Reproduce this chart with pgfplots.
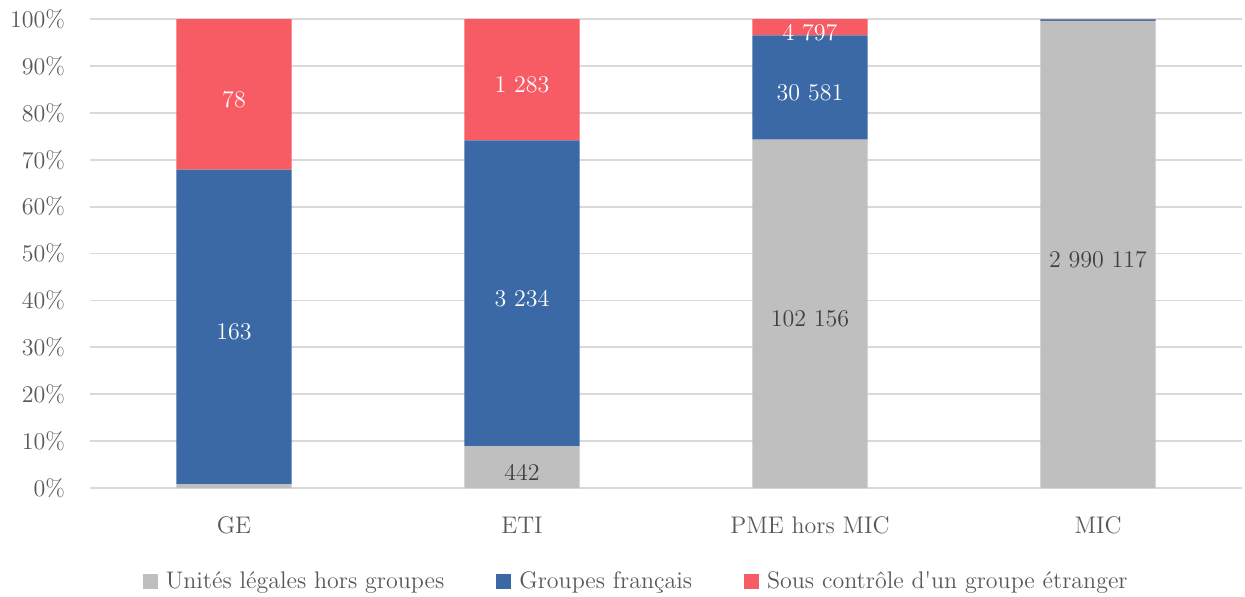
\documentclass[border=0pt]{standalone}
\usepackage{pgfplots}
\pgfplotsset{compat=1.18}
\definecolor{gris}{HTML}{BFBFBF}
\definecolor{bleu}{HTML}{3A69A5}
\definecolor{rouge}{HTML}{F75B64}
\definecolor{texte}{HTML}{595959}
\definecolor{sombre}{HTML}{404040}
\definecolor{grille}{HTML}{D9D9D9}

\pgfplotsset{
  carre/.style={legend image code/.code={\fill[##1] (0pt,-3.75pt) rectangle (7.5pt,3.75pt);}},
  cadre/.style={scale only axis, width=576pt, height=234.5pt,
    xmin=-0.5, xmax=3.5, ymin=0, ymax=100},
}

\begin{document}
\begin{tikzpicture}[font=\fontsize{12}{14}\selectfont]
\begin{axis}[cadre,
  ybar stacked, bar width=0.4,
  xtick={0,1,2,3}, xticklabels={GE,ETI,PME hors MIC,MIC},
  ytick={0,10,...,100}, yticklabel={\pgfmathprintnumber{\tick}\%},
  ymajorgrids, grid style={draw=grille, line width=0.9pt},
  axis line style={draw=none}, major tick length=0pt,
  tick label style={text=texte},
  xticklabel style={yshift=-11pt},
  yticklabel style={xshift=-9pt},
  legend columns=3,
  legend style={at={(0.475,-0.2)}, anchor=center, draw=none, text=texte,
    /tikz/every odd column/.append style={column sep=2pt},
    /tikz/every even column/.append style={column sep=24pt}},
]
% parts en % de chaque tranche
\addplot[fill=gris, draw=none, carre] coordinates {(0,0.82) (1,8.91) (2,74.28) (3,99.60)};
\addplot[fill=bleu, draw=none, carre] coordinates {(0,67.08) (1,65.21) (2,22.24) (3,0.30)};
\addplot[fill=rouge, draw=none, carre] coordinates {(0,32.10) (1,25.88) (2,3.48) (3,0.10)};
\legend{Unités légales hors groupes, Groupes français, Sous contrôle d\textquotesingle un groupe étranger}
\end{axis}

% effectifs, au milieu de chaque segment
\begin{axis}[cadre, hide axis,
  nodes near coords, point meta=explicit symbolic,
  every node near coord/.append style={anchor=center, yshift=-2.5pt},
]
\addplot[draw=none, mark=none, every node near coord/.append style={text=sombre}]
  coordinates {(1,4.46) [442] (2,37.14) [102~156] (3,49.80) [2~990~117]};
\addplot[draw=none, mark=none, every node near coord/.append style={text=white}]
  coordinates {(0,34.36) [163] (1,41.52) [3~234] (2,85.40) [30~581]};
\addplot[draw=none, mark=none, every node near coord/.append style={text=white}]
  coordinates {(0,83.95) [78] (1,87.06) [1~283] (2,98.25) [4~797]};
\end{axis}
\pgfresetboundingbox
\path (-45pt,-54pt) rectangle (577.5pt,244pt);
\end{tikzpicture}
\end{document}
